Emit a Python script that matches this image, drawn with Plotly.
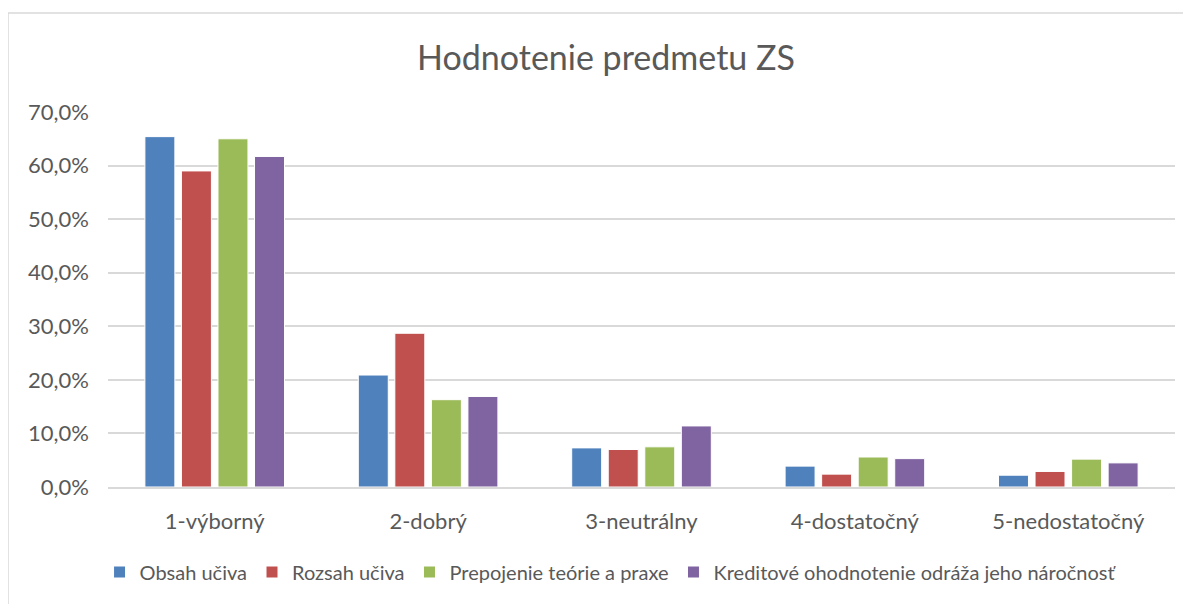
import plotly.graph_objects as go

categories = ["1-výborný", "2-dobrý", "3-neutrálny", "4-dostatočný", "5-nedostatočný"]
series_names = ["Obsah učiva", "Rozsah učiva", "Prepojenie teórie a praxe",
                "Kreditové ohodnotenie odráža jeho náročnosť"]
obsah = [0.654, 0.209, 0.073, 0.039, 0.022]
rozsah = [0.590, 0.287, 0.070, 0.024, 0.029]
prepojenie = [0.650, 0.163, 0.075, 0.056, 0.052]
kreditove = [0.617, 0.169, 0.114, 0.053, 0.045]
colors = ["#4F81BD", "#C0504D", "#9BBB59", "#8064A2"]

FONT = "Lato, Carlito, sans-serif"

fig = go.Figure()
for name, vals, c in zip(series_names, [obsah, rozsah, prepojenie, kreditove], colors):
    fig.add_trace(go.Bar(x=categories, y=vals, name=name, marker_color=c,
                         marker_line_color="white", marker_line_width=1))

W, H = 1183, 596
L, R, T, B = 100, 16, 104, 117
pw, ph = W - L - R, H - T - B

fig.update_layout(
    width=W, height=H,
    paper_bgcolor="white", plot_bgcolor="white",
    margin=dict(l=L, r=R, t=T, b=B, autoexpand=False),
    separators=", ",
    font=dict(family=FONT, color="#595959", size=22),
    title=dict(text="Hodnotenie predmetu ZS", x=598 / W, xanchor="center",
               y=1 - 50 / H, yanchor="middle", font=dict(size=34, color="#595959")),
    barmode="group", bargap=0.315, bargroupgap=0.18,
    legend=dict(orientation="h", x=0.471, xanchor="center", y=-85 / ph, yanchor="middle",
                font=dict(size=20), itemwidth=30, tracegroupgap=0),
    showlegend=True,
)
fig.update_yaxes(range=[0, 0.7], dtick=0.1, tickformat=".1%", showgrid=True,
                 gridcolor="#D9D9D9", gridwidth=1.5, zeroline=False, showline=False,
                 ticks="", ticklabelstandoff=18, tickfont=dict(size=22))
fig.update_xaxes(showline=True, linecolor="#D9D9D9", linewidth=1.5, ticks="",
                 ticklabelstandoff=14, tickfont=dict(size=22))
fig.add_shape(type="rect", xref="paper", yref="paper",
              x0=-L / pw, x1=1 + 30 / pw, y0=-(B + 20) / ph, y1=1 + (T - 5) / ph,
              line=dict(color="#D9D9D9", width=1.5), layer="below")
fig.write_html("out.html")
